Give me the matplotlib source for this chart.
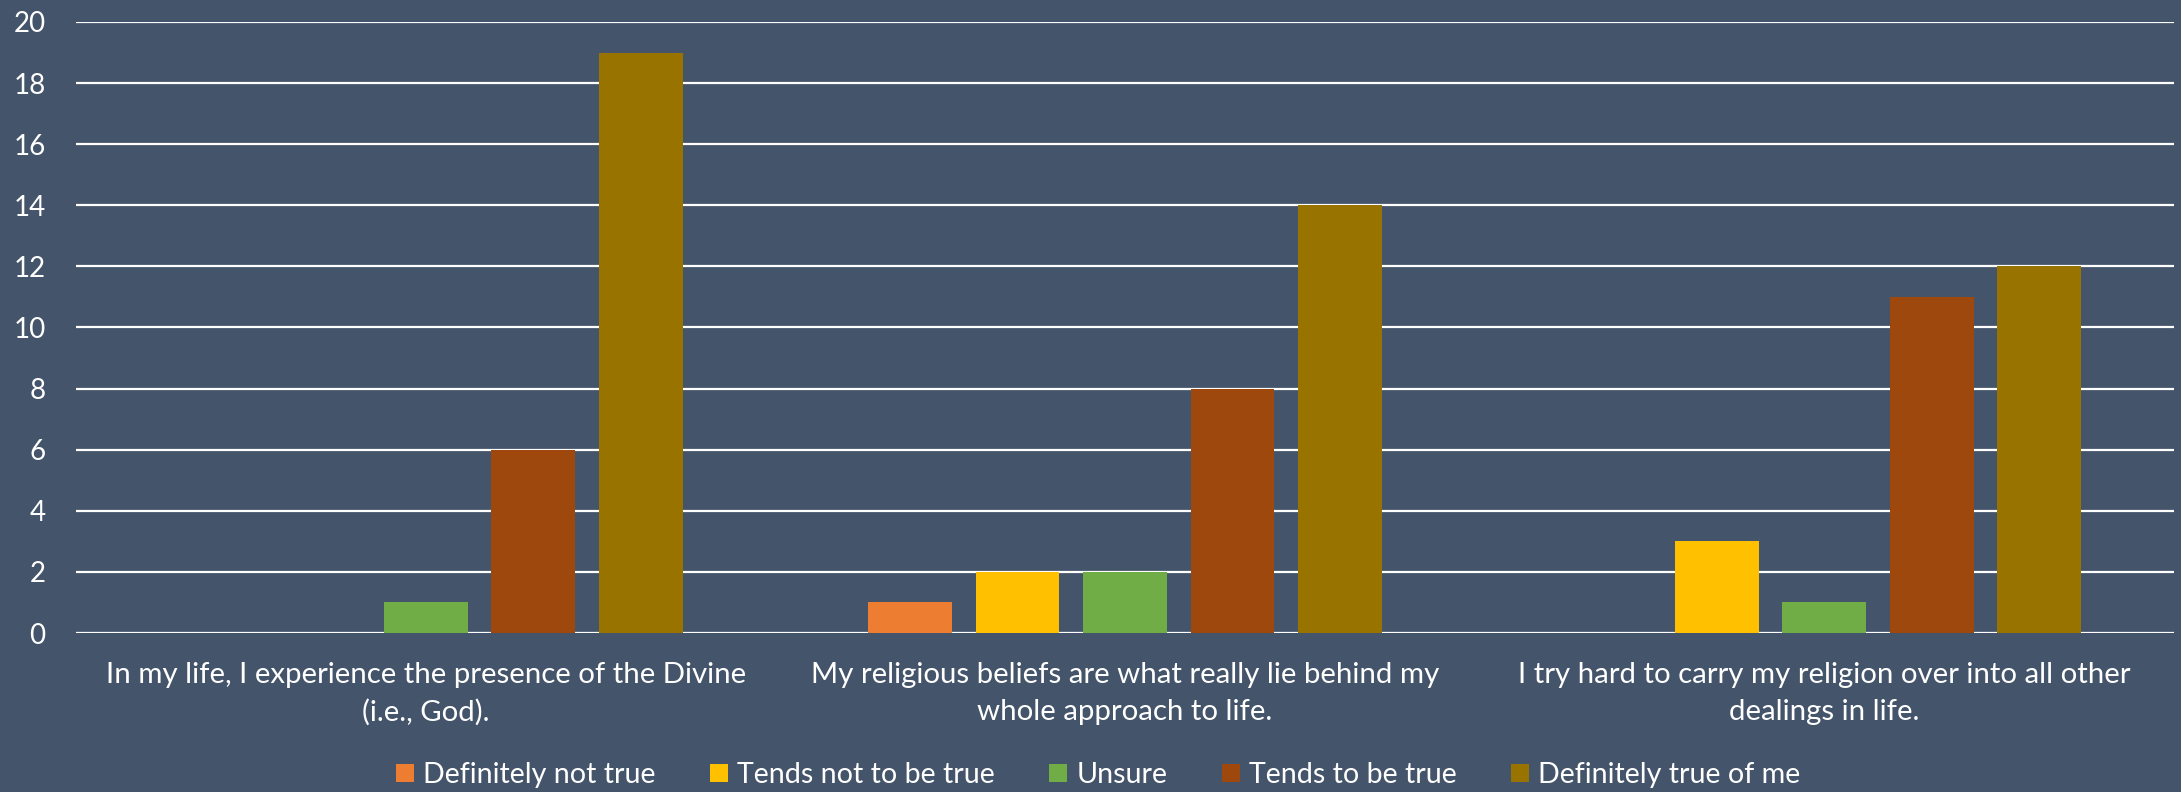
import matplotlib
matplotlib.use("Agg")
import matplotlib.pyplot as plt
import numpy as np

categories = [
    "In my life, I experience the presence of the Divine\n(i.e., God).",
    "My religious beliefs are what really lie behind my\nwhole approach to life.",
    "I try hard to carry my religion over into all other\ndealings in life.",
]
series_names = ["Definitely not true", "Tends not to be true", "Unsure",
                "Tends to be true", "Definitely true of me"]
definitely_not_true = [0, 1, 0]
tends_not_true = [0, 2, 3]
unsure = [1, 2, 1]
tends_true = [6, 8, 11]
definitely_true = [19, 14, 12]
series_values = [definitely_not_true, tends_not_true, unsure, tends_true, definitely_true]
colors = ["#ED7D31", "#FFC000", "#70AD47", "#9E480E", "#997300"]
yticks = [0, 2, 4, 6, 8, 10, 12, 14, 16, 18, 20]

BG = "#44546A"
plt.rcParams['font.family'] = ['Lato', 'DejaVu Sans']

fig = plt.figure(figsize=(21.81, 7.92), dpi=100, facecolor=BG)
ax = fig.add_axes([76 / 2181, 1 - 633 / 792, (2174 - 76) / 2181, (633 - 22) / 792])
ax.set_facecolor(BG)

x = np.arange(len(categories))
pitch = 0.1537
width = 0.120
for i, (name, vals, c) in enumerate(zip(series_names, series_values, colors)):
    ax.bar(x + (i - 2) * pitch, vals, width=width, color=c, label=name, zorder=3)

ax.set_xlim(-0.5, 2.5)
ax.set_ylim(0, 20)
ax.set_yticks(yticks)
ax.set_xticks(x)
ax.set_xticklabels(categories, fontsize=21.2, color="white", linespacing=1.5)
ax.tick_params(axis='x', length=0, pad=21)
ax.tick_params(axis='y', length=0, pad=22, labelsize=20, labelcolor="white")
ax.yaxis.grid(True, color="white", linewidth=1.6)
ax.set_axisbelow(True)
for s in ax.spines.values():
    s.set_visible(False)
ax.axhline(0, color="white", linewidth=2.2, zorder=2)

fig.legend(loc="upper center", bbox_to_anchor=(1098 / 2181, 1 - 762 / 792), ncol=5,
           frameon=False, fontsize=20.6, labelcolor="white",
           handlelength=0.63, handleheight=0.63, handletextpad=0.32,
           columnspacing=1.9, borderaxespad=0, borderpad=0)

fig.savefig("out.png", dpi=100, facecolor=BG)
